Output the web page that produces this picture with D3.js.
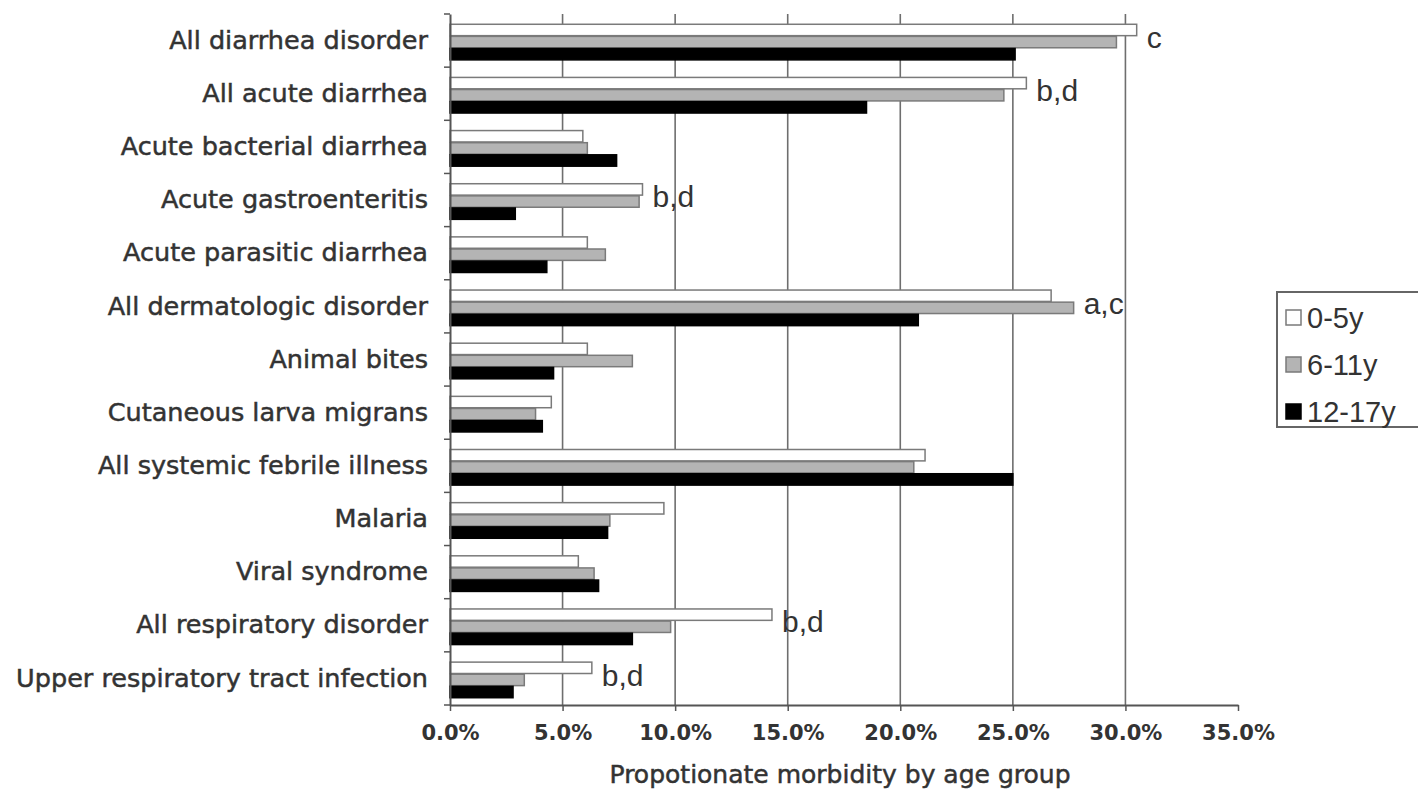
<!DOCTYPE html>
<html>
<head>
<meta charset="utf-8">
<script src="https://cdn.jsdelivr.net/npm/d3@7"></script>
<style>
  body { margin: 0; background: #fff; }
  .lbl { font-family: "DejaVu Sans", sans-serif; fill: #333; stroke: #333; stroke-width: 0.5px; }
  .tick text { font-family: "DejaVu Sans", sans-serif; fill: #333; }
  .note, .leg { font-family: "Liberation Sans", Arial, sans-serif; fill: #333; }
</style>
</head>
<body>
<div id="chart"></div>
<script>
// categories, top to bottom
let categories = [
  "All diarrhea disorder", "All acute diarrhea", "Acute bacterial diarrhea",
  "Acute gastroenteritis", "Acute parasitic diarrhea", "All dermatologic disorder",
  "Animal bites", "Cutaneous larva migrans", "All systemic febrile illness",
  "Malaria", "Viral syndrome", "All respiratory disorder",
  "Upper respiratory tract infection"
];
let groups = ["0-5y", "6-11y", "12-17y"];

// percent values per age group
let age0_5   = [30.5, 25.6, 5.9, 8.55, 6.1, 26.7, 6.1, 4.5, 21.1, 9.5, 5.7, 14.3, 6.3];
let age6_11  = [29.6, 24.6, 6.1, 8.4, 6.9, 27.7, 8.1, 3.8, 20.6, 7.1, 6.4, 9.8, 3.3];
let age12_17 = [25.1, 18.5, 7.4, 2.9, 4.3, 20.8, 4.6, 4.1, 25.0, 7.0, 6.6, 8.1, 2.8];

let xTicks = [0, 5, 10, 15, 20, 25, 30, 35];

// significance notes
let noteCats  = ["All diarrhea disorder", "All acute diarrhea", "Acute gastroenteritis",
                 "All dermatologic disorder", "All respiratory disorder", "Upper respiratory tract infection"];
let noteTexts = ["c", "b,d", "b,d", "a,c", "b,d", "b,d"];

let fills   = {"0-5y": "#ffffff", "6-11y": "#b4b4b4", "12-17y": "#000000"};
let strokes = {"0-5y": "#7a7a7a", "6-11y": "#7a7a7a", "12-17y": "#000000"};

let W = 1418, H = 789;
let margin = {top: 14, left: 450, right: 180, bottom: 84};

let svg = d3.select("#chart").append("svg")
    .attr("width", W)
    .attr("height", H);

let x = d3.scaleLinear().domain([0, 35]).range([margin.left, 1238]);
let y = d3.scaleBand().domain(categories).range([margin.top, H - margin.bottom]);
let inner = d3.scaleBand().domain(groups)
    .range([0, y.bandwidth() * 0.67]).paddingInner(0.06);
let off = (y.bandwidth() - inner.range()[1]) / 2 + 1.5;

let table = categories.map((c, i) => ({
  cat: c,
  vals: [age0_5[i], age6_11[i], age12_17[i]]
}));

// gridlines
svg.append("g").selectAll("line")
    .data(xTicks.filter(t => t > 0 && t < 35))
    .enter().append("line")
    .attr("x1", d => x(d)).attr("x2", d => x(d))
    .attr("y1", margin.top).attr("y2", H - margin.bottom)
    .attr("stroke", "#6e6e6e").attr("stroke-width", 1.6);

// bars
let rows = svg.append("g").selectAll("g")
    .data(table)
    .enter().append("g")
    .attr("transform", d => "translate(0," + (y(d.cat) + off) + ")");

rows.selectAll("rect")
    .data(d => d.vals.map((v, j) => ({g: groups[j], v: v})))
    .enter().append("rect")
    .attr("x", x(0))
    .attr("y", d => inner(d.g))
    .attr("width", d => x(d.v) - x(0))
    .attr("height", inner.bandwidth())
    .attr("fill", d => fills[d.g])
    .attr("stroke", d => strokes[d.g])
    .attr("stroke-width", 1.5);

// x axis
let xAxis = svg.append("g")
    .attr("transform", "translate(0," + (H - margin.bottom) + ")")
    .call(d3.axisBottom(x).tickValues(xTicks).tickFormat(d => d.toFixed(1) + "%").tickSize(6).tickSizeOuter(0));
xAxis.select(".domain").attr("stroke", "#555").attr("stroke-width", 2);
xAxis.selectAll(".tick line").attr("stroke", "#555").attr("stroke-width", 1.5);
xAxis.selectAll(".tick text")
    .attr("font-size", 21).attr("dy", "1.25em")
    .attr("font-weight", "bold");

// y axis
let yAxis = svg.append("g")
    .attr("transform", "translate(" + margin.left + ",0)")
    .call(d3.axisLeft(y).tickSize(0).tickPadding(22));
yAxis.select(".domain").attr("stroke", "#555").attr("stroke-width", 2);
yAxis.selectAll(".tick text").attr("class", "lbl").attr("font-size", 25.5);

// boundary ticks on y axis
svg.append("g").selectAll("line")
    .data(categories.map(c => y(c)).concat([H - margin.bottom]))
    .enter().append("line")
    .attr("x1", margin.left - 6).attr("x2", margin.left)
    .attr("y1", d => d).attr("y2", d => d)
    .attr("stroke", "#555").attr("stroke-width", 1.5);

// notes
svg.append("g").selectAll("text")
    .data(noteCats)
    .enter().append("text")
    .attr("class", "note")
    .attr("font-size", 30)
    .attr("x", (c, i) => x(d3.max(table[categories.indexOf(c)].vals)) + 10)
    .attr("y", c => y(c) + off + inner("6-11y") + inner.bandwidth())
    .text((c, i) => noteTexts[i]);

// axis title
svg.append("text")
    .attr("class", "lbl")
    .attr("font-size", 25)
    .attr("text-anchor", "middle")
    .attr("x", 840)
    .attr("y", 783)
    .text("Propotionate morbidity by age group");

// legend
let leg = svg.append("g").attr("transform", "translate(1277,292)");
leg.append("rect")
    .attr("width", 150).attr("height", 135)
    .attr("fill", "#fff").attr("stroke", "#666").attr("stroke-width", 2);
let li = leg.selectAll("g.item")
    .data(groups)
    .enter().append("g")
    .attr("class", "item")
    .attr("transform", (d, i) => "translate(9," + (18 + i * 47) + ")");
li.append("rect")
    .attr("width", 15).attr("height", 15)
    .attr("fill", d => fills[d])
    .attr("stroke", d => strokes[d]).attr("stroke-width", 1.5);
li.append("text")
    .attr("class", "leg")
    .attr("font-size", 29)
    .attr("x", 21).attr("y", 18)
    .text(d => d);
</script>
</body>
</html>
